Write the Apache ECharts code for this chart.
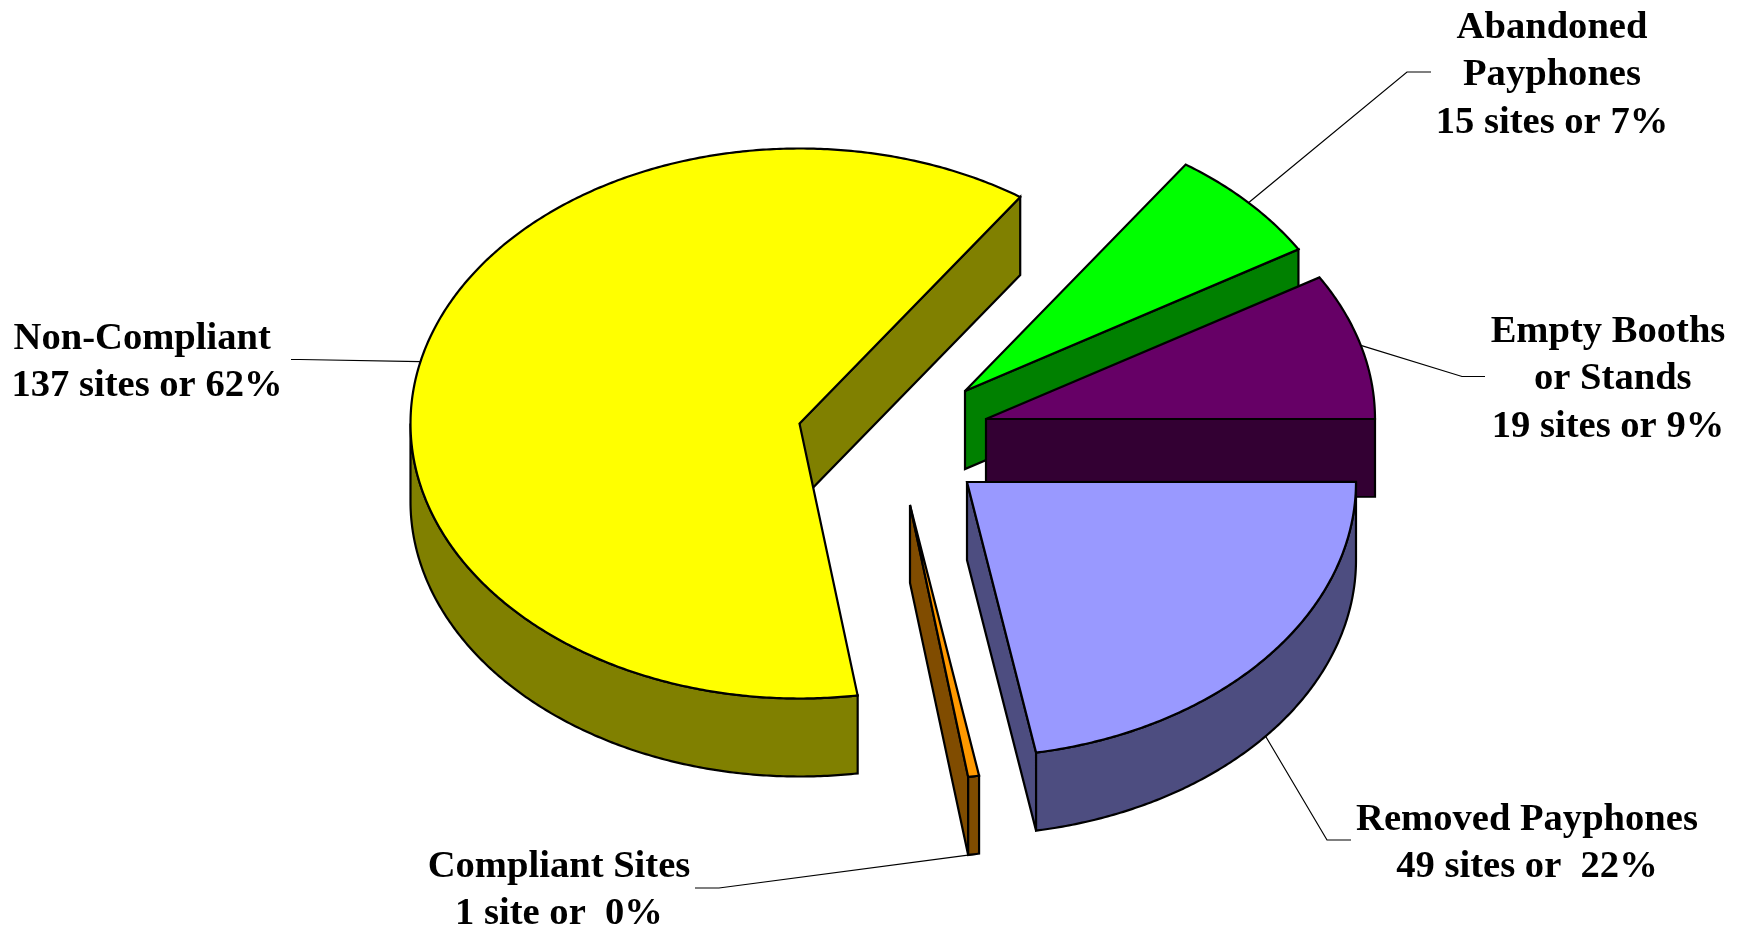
<!DOCTYPE html>
<html>
<head>
<meta charset="utf-8">
<title>Payphone sites</title>
<style>
    html, body {margin: 0; padding: 0; background: #fff;}
    #chart {width: 1747px; height: 929px;}
</style>
<script src="https://cdn.jsdelivr.net/npm/echarts@6/dist/echarts.min.js"></script>
</head>
<body>
<div id="chart"></div>
<script>
// values
const categories = ['Non-Compliant', 'Abandoned Payphones', 'Empty Booths or Stands', 'Removed Payphones', 'Compliant Sites'];
const siteCounts = [137, 15, 19, 49, 1];
const labelTexts = [
    'Non-Compliant \n137 sites or 62%',
    'Abandoned\nPayphones\n15 sites or 7%',
    'Empty Booths\n or Stands\n19 sites or 9%',
    'Removed Payphones\n49 sites or  22%',
    'Compliant Sites\n1 site or  0%'
];

// styles
const topColors = ['#ffff00', '#00ff00', '#660066', '#9999ff', '#ff9900'];
const sideColors = ['#808000', '#008000', '#330033', '#4d4d80', '#804c00'];

// layout of the tilted pie, in pixels
const radiusX = 389;
const radiusY = 275;
const depth = 78;
const startAngle = 278.6; // slices run clockwise from here
const apexes = [[799.5, 423.5], [965, 391], [986, 419], [967, 482], [910, 505]];
const labelCentres = [[147, 362.5], [1552, 75.5], [1608, 379.5], [1527, 843.5], [559, 890.5]];
const leaderEnds = [
    [[300, 359.5], [291, 359.5]],
    [[1407, 72], [1431, 72]],
    [[1462, 376.5], [1485, 376.5]],
    [[1327, 840], [1351, 840]],
    [[719, 888], [695, 888]]
];

const total = siteCounts.reduce((a, b) => a + b, 0);

const rad = deg => deg * Math.PI / 180;

const rimPoint = (apex, deg, drop) => [
    apex[0] + radiusX * Math.cos(rad(deg)),
    apex[1] - radiusY * Math.sin(rad(deg)) + (drop || 0)
];

// points along the rim from one angle down to a lower one
const arcPoints = (apex, from, to, drop) => {
    const n = Math.max(2, Math.ceil((from - to) * 2));
    const pts = [];
    for (let i = 0; i <= n; i++) {
        pts.push(rimPoint(apex, from + (to - from) * i / n, drop));
    }
    return pts;
};

const renderSlice = (params, api) => {
    const i = params.dataIndex;
    const value = api.value(1);
    const before = siteCounts.slice(0, i).reduce((a, b) => a + b, 0);
    const from = startAngle - before / total * 360;
    const to = from - value / total * 360;
    const mid = (from + to) / 2;
    const apex = apexes[i];
    const edge = {fill: sideColors[i], stroke: '#000', lineWidth: 2.2, lineJoin: 'miter', miterLimit: 3};
    const children = [];

    // leader line, from the middle of the slice's rim
    const midIsLow = Math.sin(rad(mid)) < 0;
    children.push({
        type: 'polyline',
        shape: {points: [rimPoint(apex, mid, midIsLow ? depth : 0), ...leaderEnds[i]]},
        style: {fill: null, stroke: '#000', lineWidth: 1.2}
    });

    // cut face at the clockwise end
    const tip = rimPoint(apex, to);
    children.push({
        type: 'polygon',
        shape: {points: [apex, tip, [tip[0], tip[1] + depth], [apex[0], apex[1] + depth]]},
        style: edge
    });

    // outer wall, only the part of the rim that faces the viewer
    [[180, 360], [-180, 0]].forEach(range => {
        const hi = Math.min(from, range[1]);
        const lo = Math.max(to, range[0]);
        if (hi > lo) {
            const upper = arcPoints(apex, hi, lo, 0);
            const lower = arcPoints(apex, hi, lo, depth).reverse();
            children.push({type: 'polygon', shape: {points: [...upper, ...lower]}, style: edge});
        }
    });

    // top face
    children.push({
        type: 'polygon',
        shape: {points: [apex, ...arcPoints(apex, from, to, 0)]},
        style: {fill: topColors[i], stroke: '#000', lineWidth: 2.2, lineJoin: 'miter', miterLimit: 3}
    });

    children.push({
        type: 'text',
        style: {
            x: labelCentres[i][0],
            y: labelCentres[i][1],
            text: labelTexts[i],
            fill: '#000',
            fontFamily: '"Liberation Serif"',
            fontWeight: 'bold',
            fontSize: 38.6,
            lineHeight: 47.5,
            align: 'center',
            verticalAlign: 'middle'
        }
    });

    return {type: 'group', children};
};

const myChart = echarts.init(document.getElementById('chart'));
myChart.setOption({
    animation: false,
    backgroundColor: '#fff',
    series: [{
        type: 'custom',
        coordinateSystem: 'none',
        silent: true,
        data: categories.map((name, i) => ({name, value: [i, siteCounts[i]]})),
        renderItem: renderSlice
    }]
});
</script>
</body>
</html>
